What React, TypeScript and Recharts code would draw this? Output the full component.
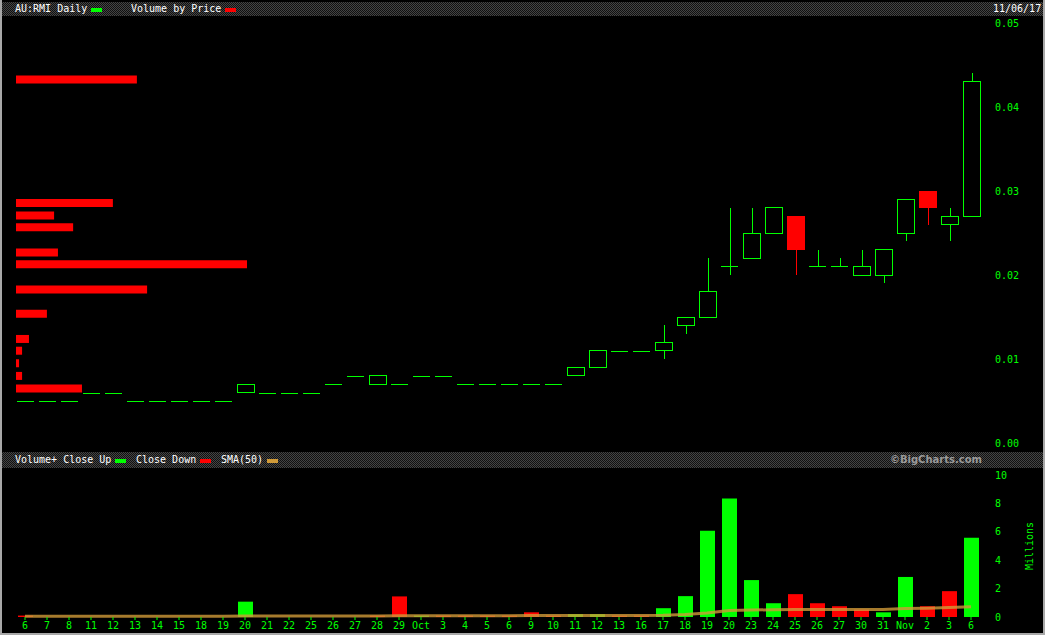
import React from "react";
import { ComposedChart, Bar, Line, XAxis, YAxis, Cell } from "recharts";

const GREEN = "#00ff00";
const RED = "#ff0000";
const SMA_COLOR = "#d09a38";
const MONO = "'DejaVu Sans Mono', monospace";

// trading days, 6 Sep 2017 .. 6 Nov 2017
const dayLabels = [
  "6", "7", "8", "11", "12", "13", "14", "15", "18", "19", "20", "21", "22", "25", "26", "27", "28", "29",
  "Oct", "3", "4", "5", "6", "9", "10", "11", "12", "13", "16", "17", "18", "19", "20", "23", "24", "25", "26", "27", "30", "31",
  "Nov", "2", "3", "6",
];

const opens = [
  0.005, 0.005, 0.005, 0.006, 0.006, 0.005, 0.005, 0.005, 0.005, 0.005, 0.006, 0.006, 0.006, 0.006, 0.007, 0.008, 0.007, 0.007,
  0.008, 0.008, 0.007, 0.007, 0.007, 0.007, 0.007, 0.008, 0.009, 0.011, 0.011, 0.011, 0.014, 0.015, 0.021, 0.022, 0.025, 0.027, 0.021, 0.021, 0.020, 0.020,
  0.025, 0.030, 0.026, 0.027,
];
const highs = [
  0.005, 0.005, 0.005, 0.006, 0.006, 0.005, 0.005, 0.005, 0.005, 0.005, 0.007, 0.006, 0.006, 0.006, 0.007, 0.008, 0.008, 0.007,
  0.008, 0.008, 0.007, 0.007, 0.007, 0.007, 0.007, 0.009, 0.011, 0.011, 0.011, 0.014, 0.015, 0.022, 0.028, 0.028, 0.028, 0.027, 0.023, 0.022, 0.023, 0.023,
  0.029, 0.030, 0.028, 0.044,
];
const lows = [
  0.005, 0.005, 0.005, 0.006, 0.006, 0.005, 0.005, 0.005, 0.005, 0.005, 0.006, 0.006, 0.006, 0.006, 0.007, 0.008, 0.007, 0.007,
  0.008, 0.008, 0.007, 0.007, 0.007, 0.007, 0.007, 0.008, 0.009, 0.011, 0.011, 0.010, 0.013, 0.015, 0.020, 0.022, 0.025, 0.020, 0.021, 0.021, 0.020, 0.019,
  0.024, 0.026, 0.024, 0.027,
];
const closes = [
  0.005, 0.005, 0.005, 0.006, 0.006, 0.005, 0.005, 0.005, 0.005, 0.005, 0.007, 0.006, 0.006, 0.006, 0.007, 0.008, 0.008, 0.007,
  0.008, 0.008, 0.007, 0.007, 0.007, 0.007, 0.007, 0.009, 0.011, 0.011, 0.011, 0.012, 0.015, 0.018, 0.021, 0.025, 0.028, 0.023, 0.021, 0.021, 0.021, 0.023,
  0.029, 0.028, 0.027, 0.043,
];

// volume in millions, closeUp true = green
const volumes = [
  0.1, 0, 0, 0, 0, 0, 0, 0, 0, 0, 1.08, 0, 0, 0, 0, 0, 0.1, 1.45,
  0.1, 0.1, 0.1, 0.1, 0.1, 0.33, 0.1, 0.2, 0.2, 0.1, 0.1, 0.62, 1.47, 6.08, 8.35, 2.6, 0.97, 1.61, 0.97, 0.76, 0.52, 0.33,
  2.82, 0.76, 1.82, 5.58,
];
const closeUp = [
  false, true, true, true, true, true, true, true, true, true, true, true, true, true, true, true, false, false,
  true, false, false, false, false, false, false, true, true, false, false, true, true, true, true, true, true, false, false, false, false, true,
  true, false, false, true,
];
const sma50 = [
  0.05, 0.05, 0.05, 0.05, 0.05, 0.05, 0.05, 0.05, 0.05, 0.05, 0.07, 0.07, 0.07, 0.07, 0.07, 0.07, 0.07, 0.09,
  0.09, 0.09, 0.09, 0.09, 0.09, 0.1, 0.1, 0.1, 0.11, 0.11, 0.11, 0.12, 0.17, 0.28, 0.45, 0.49, 0.51, 0.53, 0.53, 0.53, 0.53, 0.53,
  0.59, 0.62, 0.67, 0.73,
];

// volume by price buckets (price level, millions)
const vbpPrices = [0.0065, 0.008, 0.0095, 0.011, 0.0124, 0.0154, 0.0183, 0.0213, 0.0227, 0.0257, 0.0271, 0.0286, 0.0433];
const vbpVolumes = [2.39, 0.22, 0.11, 0.22, 0.47, 1.12, 4.75, 8.37, 1.52, 2.07, 1.38, 3.51, 4.38];

const priceTicks = [0, 0.01, 0.02, 0.03, 0.04, 0.05];
const volumeTicks = [0, 2, 4, 6, 8, 10];

const priceData = dayLabels.map((label, i) => ({
  label,
  open: opens[i],
  high: highs[i],
  low: lows[i],
  close: closes[i],
}));
const volData = dayLabels.map((label, i) => ({ label, vol: volumes[i], sma: sma50[i] }));
const vbpData = vbpPrices.map((price, i) => ({ price, vol: vbpVolumes[i] }));

function Candle(props: any) {
  const { x, y, width, height, payload } = props;
  const { open, close, high, low } = payload;
  const up = close >= open;
  const color = up ? GREEN : RED;
  const top = Math.min(y, y + height);
  const h = Math.abs(height);
  const cx = Math.round(x + width / 2) + 0.5;
  if (high === low || h === 0) {
    const yy = Math.round(top) + 0.5;
    return <line x1={x} x2={x + width} y1={yy} y2={yy} stroke={color} shapeRendering="crispEdges" />;
  }
  const k = h / (high - low);
  const yOf = (v: number) => top + (high - v) * k;
  const bTop = yOf(Math.max(open, close));
  const bBot = yOf(Math.min(open, close));
  return (
    <g shapeRendering="crispEdges">
      <line x1={cx} x2={cx} y1={yOf(high)} y2={yOf(low)} stroke={color} />
      {open === close ? (
        <line x1={x} x2={x + width} y1={bTop} y2={bTop} stroke={color} />
      ) : (
        <rect x={x} y={bTop} width={width} height={bBot - bTop} fill={up ? "#000" : RED} stroke={color} />
      )}
    </g>
  );
}

const headerBg = "repeating-conic-gradient(#444 0 25%, #111 0 50%) 0 0 / 2px 2px";

function Txt({ x, y, children, color = "#fff" }: any) {
  return (
    <span style={{ position: "absolute", left: x, top: y, color, fontFamily: MONO, fontSize: 10, lineHeight: "12px", whiteSpace: "pre" }}>
      {children}
    </span>
  );
}
function Swatch({ x, y, color }: any) {
  return <span style={{ position: "absolute", left: x, top: y, width: 11, height: 4, background: color }} />;
}

export default function App() {
  const tick = { fill: GREEN, fontSize: 10, fontFamily: MONO };
  return (
    <div style={{ position: "absolute", left: 0, top: 0, width: 1045, height: 635, background: "#000", overflow: "hidden" }}>
      {/* price header */}
      <div style={{ position: "absolute", left: 0, top: 2, width: 1045, height: 14, background: headerBg }} />
      <Txt x={15} y={3}>AU:RMI Daily</Txt>
      <Swatch x={91} y={8} color={GREEN} />
      <Txt x={131} y={3}>Volume by Price</Txt>
      <Swatch x={225} y={8} color={RED} />
      <Txt x={993} y={3}>11/06/17</Txt>

      {/* volume by price */}
      <div style={{ position: "absolute", left: 0, top: 17 }}>
        <ComposedChart layout="vertical" width={1045} height={433} data={vbpData} margin={{ top: 6, right: 63, bottom: 7, left: 16 }}>
          <XAxis type="number" domain={[0, 35]} hide />
          <YAxis type="number" dataKey="price" domain={[0, 0.05]} reversed hide />
          <Bar dataKey="vol" fill={RED} barSize={8} isAnimationActive={false} />
        </ComposedChart>
      </div>

      {/* candles */}
      <div style={{ position: "absolute", left: 0, top: 17 }}>
        <ComposedChart width={1045} height={433} data={priceData} margin={{ top: 6, right: 13, bottom: 7, left: 14 }}>
          <XAxis dataKey="label" hide />
          <YAxis
            orientation="right"
            domain={[0, 0.05]}
            ticks={priceTicks}
            width={50}
            axisLine={false}
            tickLine={false}
            tickSize={0}
            tickMargin={13}
            tick={tick}
            tickFormatter={(v: number) => v.toFixed(2)}
          />
          <Bar dataKey={(d: any) => [d.low, d.high]} barSize={17} shape={<Candle />} isAnimationActive={false} />
        </ComposedChart>
      </div>

      {/* volume header */}
      <div style={{ position: "absolute", left: 0, top: 452, width: 1045, height: 16, background: headerBg }} />
      <Txt x={15} y={454}>Volume+ Close Up</Txt>
      <Swatch x={115} y={459} color={GREEN} />
      <Txt x={136} y={454}>Close Down</Txt>
      <Swatch x={200} y={459} color={RED} />
      <Txt x={221} y={454}>SMA(50)</Txt>
      <Swatch x={267} y={459} color={SMA_COLOR} />
      <span
        style={{
          position: "absolute",
          right: 63,
          top: 454,
          color: "#9a9a9a",
          fontFamily: "'DejaVu Sans', sans-serif",
          fontWeight: "bold",
          fontSize: 10,
          lineHeight: "12px",
        }}
      >
        ©BigCharts.com
      </span>

      {/* volume */}
      <div style={{ position: "absolute", left: 0, top: 469 }}>
        <ComposedChart width={1045} height={166} data={volData} margin={{ top: 6, right: 13, bottom: 0, left: 14 }}>
          <XAxis
            dataKey="label"
            interval={0}
            height={18}
            tickSize={3}
            tickMargin={2}
            axisLine={false}
            tickLine={{ stroke: GREEN }}
            tick={tick}
          />
          <YAxis
            orientation="right"
            domain={[0, 10]}
            ticks={volumeTicks}
            width={50}
            axisLine={false}
            tickLine={false}
            tickSize={0}
            tickMargin={13}
            tick={tick}
            label={{
              value: "Millions",
              angle: -90,
              position: "insideRight",
              offset: 3,
              fill: GREEN,
              fontSize: 10,
              fontFamily: MONO,
              style: { textAnchor: "middle" },
            }}
          />
          <Bar dataKey="vol" barSize={15} isAnimationActive={false}>
            {volData.map((_, i) => (
              <Cell key={i} fill={closeUp[i] ? GREEN : RED} />
            ))}
          </Bar>
          <Line
            type="linear"
            dataKey="sma"
            stroke={SMA_COLOR}
            strokeOpacity={0.8}
            strokeWidth={3}
            dot={false}
            isAnimationActive={false}
          />
        </ComposedChart>
      </div>

      {/* frame */}
      <div
        style={{
          position: "absolute",
          left: 0,
          top: 0,
          width: 1045,
          height: 635,
          boxSizing: "border-box",
          borderLeft: "2px solid #a8a8a8",
          borderRight: "2px solid #a8a8a8",
          borderBottom: "2px solid #a8a8a8",
          pointerEvents: "none",
        }}
      />
    </div>
  );
}
